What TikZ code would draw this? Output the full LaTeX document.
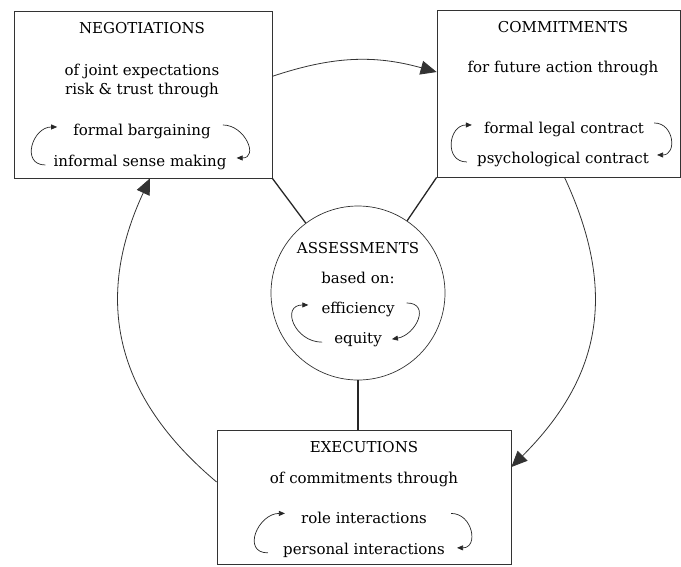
\documentclass[tikz,border=0pt]{standalone}
\usepackage{fontspec}
\setmainfont{DejaVu Serif}
\usetikzlibrary{shapes.geometric, arrows.meta}
\tikzstyle{stage} = [rectangle, draw=black!80, line width=0.7pt, inner sep=0pt]
\tikzstyle{hub} = [circle, draw=black!80, line width=0.7pt, inner sep=0pt, minimum size=174pt]
\tikzstyle{txt} = [anchor=base, inner sep=0pt, font=\fontsize{15}{17}\selectfont]
\tikzstyle{link} = [line width=1.3pt, black!85]
\tikzstyle{flow} = [line width=0.8pt, black!80, -{Triangle[length=16pt,width=14pt]}]
\tikzstyle{curl} = [line width=0.7pt, black!85, -{Triangle[length=6pt,width=5pt]}]

\begin{document}
\begin{tikzpicture}[x=1pt, y=-1pt]
        \useasboundingbox (0,0) rectangle (681,566);
        % the four stages
        \node (neg) [stage, minimum width=258pt, minimum height=167pt] at (143,94.5) {};
        \node (com) [stage, minimum width=243pt, minimum height=167pt] at (558.5,93.5) {};
        \node (ass) [hub] at (358,293) {};
        \node (exe) [stage, minimum width=294pt, minimum height=134pt] at (364,497) {};

        % negotiations
        \node (negtitle) [txt] at (142,33) {NEGOTIATIONS};
        \node (negsub1) [txt] at (142,75) {of joint expectations};
        \node (negsub2) [txt] at (142,94) {risk \& trust through};
        \node (negup) [txt] at (142,135) {formal bargaining};
        \node (neglow) [txt] at (140,166) {informal sense making};

        % commitments
        \node (comtitle) [txt] at (563,32) {COMMITMENTS};
        \node (comsub) [txt] at (563,72) {for future action through};
        \node (comup) [txt] at (564,133) {formal legal contract};
        \node (comlow) [txt] at (563,163) {psychological contract};

        % assessments
        \node (asstitle) [txt] at (358,253) {ASSESSMENTS};
        \node (asssub) [txt] at (358,283) {based on:};
        \node (assup) [txt] at (358,313) {efficiency};
        \node (asslow) [txt] at (358,343) {equity};

        % executions
        \node (exetitle) [txt] at (364,452) {EXECUTIONS};
        \node (exesub) [txt] at (364,483) {of commitments through};
        \node (exeup) [txt] at (364,523) {role interactions};
        \node (exelow) [txt] at (364,554) {personal interactions};

        % links to the hub
        \draw [link] (neg.south east) -- (ass);
        \draw [link] (com.south west) -- (ass);
        \draw [link] (ass.south) -- (ass.south |- exe.north);

        % the cycle
        \draw [flow] (neg.8.6) to[bend left=17] (com.170.4);
        \draw [flow] ([xshift=6pt]com.south) to[out=-65, in=45, looseness=1.1] ([yshift=30pt]exe.east);
        \draw [flow] ([yshift=15pt]exe.west) to[out=140, in=-115, looseness=1.1] ([xshift=7pt]neg.south);

        % small loops inside the stages
        \draw [curl] ([xshift=-8pt, yshift=-3pt]neglow.west) to[out=180, in=180, looseness=1.6] ([xshift=-16pt, yshift=4pt]negup.west);
        \draw [curl] ([xshift=12pt, yshift=6pt]negup.east) to[out=0, in=0, looseness=1.6] ([xshift=10pt, yshift=4pt]neglow.east);
        \draw [curl] ([xshift=-10pt, yshift=-3pt]comlow.west) to[out=180, in=180, looseness=1.6] ([xshift=-12pt, yshift=4pt]comup.west);
        \draw [curl] ([xshift=10pt, yshift=6pt]comup.east) to[out=0, in=0, looseness=1.6] ([xshift=8pt, yshift=4pt]comlow.east);
        \draw [curl] ([xshift=-12pt, yshift=-3pt]asslow.west) to[out=180, in=180, looseness=1.8] ([xshift=-13pt, yshift=4pt]assup.west);
        \draw [curl] ([xshift=12pt, yshift=6pt]assup.east) to[out=0, in=10, looseness=1.6] ([xshift=10pt, yshift=0pt]asslow.east);
        \draw [curl] ([xshift=-15pt, yshift=-3pt]exelow.west) to[out=180, in=180, looseness=1.6] ([xshift=-16pt, yshift=4pt]exeup.west);
        \draw [curl] ([xshift=24pt, yshift=4pt]exeup.east) to[out=0, in=0, looseness=1.6] ([xshift=12pt, yshift=2pt]exelow.east);
\end{tikzpicture}
\end{document}
